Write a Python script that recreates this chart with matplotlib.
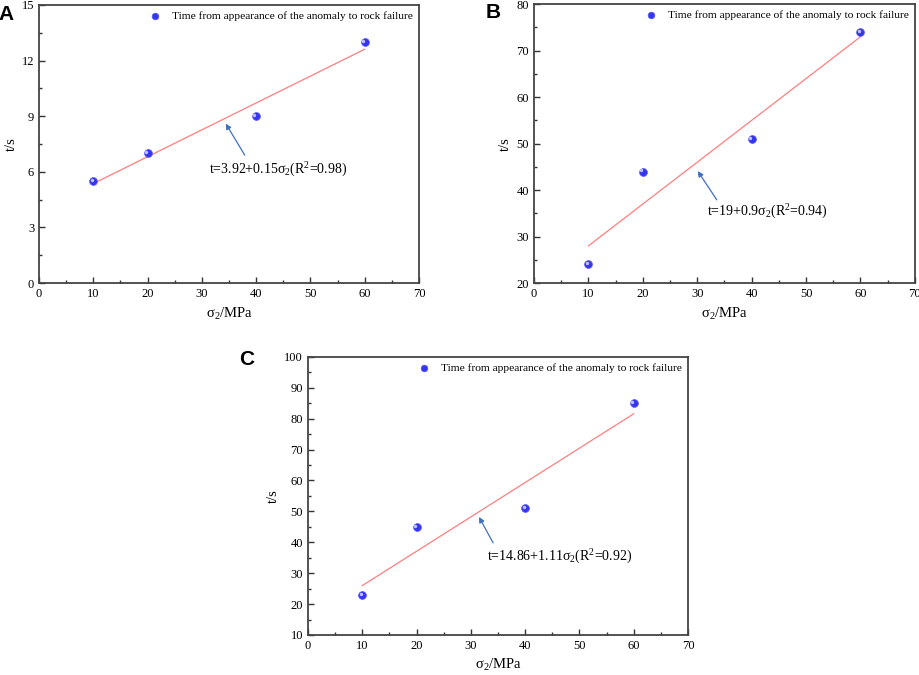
import numpy as np
import matplotlib
matplotlib.use("Agg")
import matplotlib.pyplot as plt
from matplotlib.ticker import MultipleLocator

plt.rcParams['font.family'] = ['Liberation Serif', 'DejaVu Serif']
plt.rcParams['mathtext.fontset'] = 'stix'

# data
sigma2 = [10, 20, 40, 60]
t_a = [5.5, 7, 9, 13]
t_b = [24, 44, 51, 74]
t_c = [23, 45, 51, 85]

legend_label = "Time from appearance of the anomaly to rock failure"
fit_labels = [r"t=3.92+0.15$\mathregular{\sigma_2}$(R$\mathregular{^2}$=0.98)",
              r"t=19+0.9$\mathregular{\sigma_2}$(R$\mathregular{^2}$=0.94)",
              r"t=14.86+1.11$\mathregular{\sigma_2}$(R$\mathregular{^2}$=0.92)"]
panel_letters = ["A", "B", "C"]

fig = plt.figure(figsize=(9.2, 6.75), dpi=100)

# axes rects [left, bottom, width, height]
rects = [[0.0424, 0.5807, 0.413, 0.412],
         [0.5804, 0.5807, 0.414, 0.413],
         [0.3348, 0.0593, 0.413, 0.412]]
ylims = [(0, 15), (20, 80), (10, 100)]
ymajor = [3, 10, 10]
yminor = [1.5, 5, 5]
# arrow tail (text side), arrow tip, text anchor - in data coords
arrows = [((37.9, 6.9), (34.4, 8.6), (31.3, 6.1)),
          ((33.6, 37.9), (30.1, 44.1), (31.8, 35.3)),
          ((34.1, 39.8), (31.5, 48.2), (33.0, 35.2))]
letter_pos = [(-0.002, 0.979), (0.528, 0.981), (0.260, 0.467)]

for i, ydata in enumerate([t_a, t_b, t_c]):
    ax = fig.add_axes(rects[i])
    x = np.array(sigma2)
    y = np.array(ydata)
    k, b = np.polyfit(x, y, 1)
    xf = np.array([x.min(), x.max()])
    ax.plot(xf, b + k * xf, color='#ff7f7f', lw=0.9, zorder=2)

    # sphere-like markers: blue dot + light highlight
    ax.scatter(x, y, s=32, color='#3535f0', edgecolors='#5a5aff', linewidths=0.5,
               zorder=3, label=legend_label)
    ax.scatter(x - 0.3, y + (ylims[i][1] - ylims[i][0]) * 0.004, s=6,
               color='#c0c0ff', linewidths=0, zorder=4)

    ax.set_xlim(0, 70)
    ax.set_ylim(*ylims[i])
    ax.xaxis.set_major_locator(MultipleLocator(10))
    ax.xaxis.set_minor_locator(MultipleLocator(5))
    ax.yaxis.set_major_locator(MultipleLocator(ymajor[i]))
    ax.yaxis.set_minor_locator(MultipleLocator(yminor[i]))
    ax.tick_params(which='both', direction='in', color='#333333', labelsize=9,
                   top=False, right=False, pad=3.5)
    ax.tick_params(which='major', length=4, width=1)
    ax.tick_params(which='minor', length=2.5, width=1)
    for sp in ax.spines.values():
        sp.set_color('#444444')
        sp.set_linewidth(1.3)

    ax.set_xlabel(r"$\mathregular{\sigma_2}$/MPa", fontsize=10.5, labelpad=4)
    ax.set_ylabel("t/s", fontsize=10.5, labelpad=3)

    ax.legend(loc='upper right', frameon=False, fontsize=8.2, handletextpad=0.5,
              borderaxespad=0.1, markerscale=0.85)

    tail, tip, txt = arrows[i]
    ax.annotate("", xy=tip, xytext=tail,
                arrowprops=dict(arrowstyle='-|>', color='#4070c0', lw=0.9,
                                mutation_scale=8, shrinkA=0, shrinkB=0))
    ax.text(txt[0], txt[1], fit_labels[i], fontsize=10, va='center', ha='left')

    fig.text(letter_pos[i][0], letter_pos[i][1], panel_letters[i], fontsize=15,
             fontweight='bold', family='Liberation Sans', va='center', ha='left')

fig.savefig("out.png", dpi=100)
